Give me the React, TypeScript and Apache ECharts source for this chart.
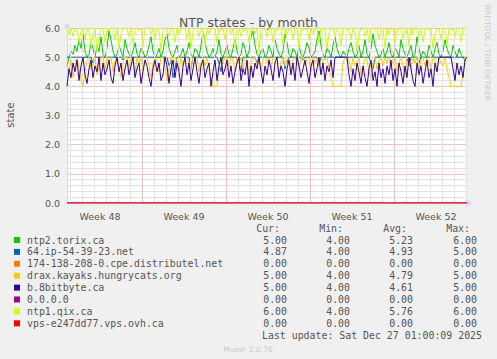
import React, { useEffect, useRef } from "react";
import * as echarts from "echarts";

// ---- data: one value every 4 hours (every 2nd 2-hour slot) ----
const seriesNames = [
  "ntp2.torix.ca",
  "64.ip-54-39-23.net",
  "174-138-208-0.cpe.distributel.net",
  "drax.kayaks.hungrycats.org",
  "b.8bitbyte.ca",
  "0.0.0.0",
  "ntp1.qix.ca",
  "vps-e247dd77.vps.ovh.ca",
];
const seriesColors = ["#00CC00", "#0066B3", "#FF8000", "#FFCC00", "#330099", "#990099", "#CCFF00", "#FF0000"];

const torix = [
  4.7, 5.0, 5.2, 5.1, 5.4, 5.2, 5.6, 5.3, 5.8, 5.2, 5.0, 5.1, 5.5, 5.3, 5.0, 5.4, 5.2, 5.7, 5.1, 5.0,
  5.3, 5.9, 5.6, 5.2, 5.0, 5.1, 5.4, 5.2, 5.0, 5.6, 5.3, 5.1, 5.0, 5.2, 5.5, 5.1, 5.0, 5.3, 5.2, 5.0,
  5.1, 5.4, 5.7, 5.2, 5.0, 5.1, 5.3, 5.0, 5.2, 5.6, 5.8, 5.3, 5.1, 5.0, 5.2, 5.4, 5.0, 5.1, 5.3, 5.0,
  5.2, 5.5, 5.1, 5.0, 5.3, 5.2, 5.0, 5.4, 5.9, 5.5, 5.2, 5.0, 5.1, 5.3, 5.0, 5.2, 5.6, 5.1, 5.0, 5.2,
  5.4, 5.1, 5.0, 5.3, 5.6, 5.2, 5.0, 5.1, 5.5, 5.3, 5.0, 5.2, 5.7, 5.9, 5.4, 5.1, 5.0, 5.2, 5.3, 5.0,
  5.1, 5.4, 5.2, 5.0, 5.6, 5.3, 5.1, 5.0, 5.2, 5.8, 5.5, 5.1, 5.0, 5.3, 5.2, 5.0, 5.4, 5.1, 5.0, 5.2,
  5.5, 5.3, 5.0, 5.1, 5.2, 5.6, 5.9, 5.4, 5.1, 5.0, 5.3, 5.2, 5.0, 5.4, 5.7, 5.3, 5.1, 5.0, 5.2, 5.1,
  5.0, 5.3, 5.5, 5.2, 5.0, 5.1, 5.4, 5.0, 5.2, 5.6, 5.1, 5.0, 5.3, 5.8, 5.4, 5.2, 5.0, 5.1, 5.3, 5.0,
  5.2, 5.5, 5.1, 5.0, 5.3, 5.2, 5.0, 5.6, 5.3, 5.1, 5.0, 5.2, 5.4, 5.0, 5.1, 5.7, 5.3, 5.0, 5.2, 5.1,
  5.0, 5.4, 5.2, 5.0, 5.3, 5.5, 5.1, 5.0, 5.2, 5.6, 5.3, 5.1, 5.0, 5.4, 5.2, 5.0, 5.3, 5.1, 5.0, 5.0,
  5.0,
];
const ip64 = [
  5.0, 5.0, 5.0, 5.0, 5.0, 5.0, 5.0, 5.0, 5.0, 5.0, 5.0, 5.0, 5.0, 4.8, 5.0, 5.0, 5.0, 5.0, 5.0, 5.0,
  5.0, 5.0, 5.0, 5.0, 5.0, 5.0, 5.0, 5.0, 4.9, 5.0, 5.0, 5.0, 5.0, 5.0, 5.0, 5.0, 5.0, 5.0, 5.0, 5.0,
  5.0, 5.0, 5.0, 5.0, 5.0, 5.0, 5.0, 5.0, 5.0, 5.0, 5.0, 4.7, 4.9, 4.3, 4.6, 5.0, 5.0, 5.0, 5.0, 5.0,
  5.0, 5.0, 4.6, 5.0, 5.0, 5.0, 5.0, 5.0, 5.0, 5.0, 5.0, 5.0, 5.0, 5.0, 5.0, 5.0, 4.8, 4.5, 5.0, 5.0,
  5.0, 5.0, 5.0, 5.0, 5.0, 5.0, 4.7, 4.5, 5.0, 5.0, 5.0, 5.0, 5.0, 5.0, 5.0, 4.8, 5.0, 5.0, 5.0, 5.0,
  5.0, 5.0, 5.0, 5.0, 5.0, 5.0, 5.0, 5.0, 5.0, 4.6, 4.8, 5.0, 5.0, 5.0, 5.0, 5.0, 5.0, 5.0, 4.9, 5.0,
  5.0, 5.0, 5.0, 5.0, 5.0, 5.0, 4.7, 5.0, 5.0, 5.0, 5.0, 5.0, 5.0, 5.0, 5.0, 5.0, 5.0, 5.0, 5.0, 5.0,
  5.0, 5.0, 5.0, 5.0, 5.0, 5.0, 5.0, 5.0, 5.0, 5.0, 5.0, 5.0, 4.8, 4.6, 5.0, 5.0, 5.0, 5.0, 5.0, 5.0,
  5.0, 5.0, 5.0, 5.0, 5.0, 5.0, 5.0, 5.0, 5.0, 5.0, 5.0, 4.7, 5.0, 5.0, 5.0, 5.0, 4.8, 5.0, 5.0, 5.0,
  5.0, 5.0, 5.0, 5.0, 5.0, 5.0, 5.0, 5.0, 5.0, 5.0, 5.0, 5.0, 5.0, 5.0, 5.0, 5.0, 5.0, 5.0, 5.0, 4.9,
  4.87,
];
const distributel = [0, 0];
const drax = [
  4.8, 4.5, 4.9, 4.3, 4.7, 5.0, 4.6, 4.2, 4.0, 4.5, 4.9, 5.0, 4.6, 4.8, 5.0, 4.4, 4.7, 5.0, 5.0, 4.6,
  5.0, 4.8, 5.0, 4.5, 4.9, 5.0, 4.7, 4.3, 4.8, 5.0, 5.0, 4.6, 5.0, 4.9, 4.4, 5.0, 4.8, 5.0, 4.6, 4.9,
  5.0, 4.7, 4.3, 4.8, 5.0, 4.9, 4.5, 5.0, 5.0, 4.7, 4.2, 4.6, 5.0, 4.8, 5.0, 4.9, 4.5, 5.0, 4.7, 5.0,
  5.0, 4.8, 4.6, 5.0, 4.9, 5.0, 4.5, 4.8, 5.0, 4.7, 5.0, 4.6, 4.3, 4.0, 4.0, 4.0, 4.6, 5.0, 4.8, 5.0,
  5.0, 4.7, 5.0, 4.9, 4.5, 5.0, 4.8, 5.0, 4.6, 5.0, 4.9, 4.4, 4.8, 5.0, 5.0, 4.7, 5.0, 4.5, 4.9, 5.0,
  4.8, 5.0, 4.6, 5.0, 5.0, 4.9, 4.4, 4.8, 5.0, 4.7, 5.0, 5.0, 4.5, 4.9, 5.0, 4.8, 4.6, 5.0, 5.0, 4.7,
  5.0, 4.9, 4.5, 5.0, 4.8, 5.0, 4.7, 4.4, 5.0, 4.9, 5.0, 4.6, 4.3, 4.0, 4.0, 4.0, 4.0, 4.0, 4.8, 5.0,
  5.0, 4.9, 4.5, 5.0, 4.7, 4.8, 5.0, 4.4, 4.6, 5.0, 4.9, 4.5, 4.3, 4.8, 5.0, 4.6, 4.9, 5.0, 4.7, 5.0,
  4.8, 5.0, 4.6, 4.9, 5.0, 4.5, 4.8, 5.0, 4.7, 4.3, 5.0, 4.9, 4.6, 5.0, 4.8, 5.0, 4.5, 4.9, 5.0, 4.7,
  5.0, 4.8, 4.6, 5.0, 4.9, 4.5, 5.0, 4.8, 4.7, 5.0, 4.6, 4.3, 4.0, 4.0, 4.0, 4.0, 4.0, 4.0, 4.4, 5.0,
  5.0,
];
const bitbyte = [
  4.0, 4.6, 4.3, 4.8, 4.5, 4.9, 4.2, 4.7, 5.0, 4.4, 4.1, 4.6, 4.9, 4.3, 4.7, 4.5, 5.0, 4.2, 4.8, 4.4,
  4.6, 4.9, 4.3, 4.1, 4.7, 5.0, 4.5, 4.8, 4.2, 4.6, 4.9, 4.4, 4.7, 5.0, 4.3, 4.6, 4.8, 4.1, 4.5, 4.9,
  4.7, 4.3, 4.0, 4.6, 4.9, 4.5, 4.8, 4.2, 4.4, 5.0, 4.7, 4.1, 4.6, 4.9, 4.3, 4.8, 4.5, 4.0, 4.7, 5.0,
  4.4, 4.8, 4.2, 4.6, 5.0, 4.5, 4.1, 4.7, 4.9, 4.3, 4.6, 4.8, 4.0, 4.5, 4.9, 4.2, 4.7, 5.0, 4.4, 4.6,
  4.9, 4.3, 4.7, 4.1, 4.5, 4.8, 5.0, 4.2, 4.6, 4.4, 4.9, 4.0, 4.7, 4.3, 4.8, 4.6, 5.0, 4.5, 4.1, 4.7,
  4.4, 4.9, 4.6, 4.2, 4.8, 5.0, 4.3, 4.7, 4.5, 4.0, 4.6, 4.9, 4.4, 4.8, 4.2, 5.0, 4.7, 4.3, 4.6, 4.9,
  4.5, 4.1, 4.7, 4.9, 4.3, 4.6, 5.0, 4.4, 4.8, 4.2, 4.7, 4.5, 4.9, 4.3, 5.0, 5.0, 5.0, 5.0, 5.0, 5.0,
  5.0, 4.4, 4.0, 4.6, 4.2, 4.8, 4.5, 4.1, 4.7, 4.3, 4.0, 4.6, 4.9, 4.2, 4.5, 4.0, 4.8, 4.3, 4.6, 4.1,
  4.7, 4.4, 4.9, 4.2, 4.6, 4.0, 4.8, 4.5, 4.1, 4.7, 4.3, 5.0, 4.6, 4.2, 4.0, 4.8, 4.4, 4.7, 4.1, 4.5,
  4.9, 4.3, 4.6, 4.0, 4.8, 4.5, 5.0, 5.0, 5.0, 5.0, 5.0, 5.0, 5.0, 4.6, 4.2, 4.8, 4.4, 4.7, 4.3, 4.9,
  5.0,
];
const zeroHost = [0, 0];
const qix = [
  6.0, 5.8, 6.0, 5.7, 6.0, 6.0, 5.5, 5.9, 6.0, 5.6, 6.0, 6.0, 5.4, 5.8, 6.0, 5.2, 5.7, 6.0, 6.0, 5.5,
  6.0, 5.9, 6.0, 6.0, 5.6, 6.0, 5.3, 5.8, 6.0, 6.0, 6.0, 5.7, 6.0, 5.5, 6.0, 6.0, 5.9, 6.0, 5.4, 6.0,
  6.0, 6.0, 5.8, 6.0, 5.6, 6.0, 6.0, 5.2, 5.9, 6.0, 6.0, 5.7, 6.0, 6.0, 5.5, 6.0, 5.8, 6.0, 6.0, 6.0,
  5.6, 6.0, 5.3, 5.9, 6.0, 6.0, 5.7, 6.0, 6.0, 5.4, 6.0, 5.8, 6.0, 6.0, 6.0, 5.5, 6.0, 5.9, 6.0, 5.6,
  6.0, 6.0, 5.8, 6.0, 5.3, 6.0, 6.0, 5.7, 6.0, 5.9, 6.0, 5.5, 6.0, 6.0, 5.8, 6.0, 5.2, 5.9, 6.0, 6.0,
  5.7, 6.0, 6.0, 5.5, 6.0, 5.9, 6.0, 6.0, 5.4, 6.0, 5.8, 6.0, 6.0, 5.6, 6.0, 6.0, 5.3, 6.0, 5.9, 6.0,
  6.0, 5.6, 6.0, 5.8, 6.0, 6.0, 5.5, 6.0, 5.9, 6.0, 5.3, 5.8, 6.0, 6.0, 5.7, 6.0, 6.0, 5.4, 6.0, 6.0,
  5.9, 6.0, 5.6, 6.0, 6.0, 5.2, 5.8, 6.0, 6.0, 5.7, 6.0, 5.5, 6.0, 6.0, 5.9, 6.0, 5.6, 6.0, 6.0, 5.3,
  6.0, 5.8, 6.0, 6.0, 5.5, 6.0, 5.9, 6.0, 5.6, 6.0, 6.0, 5.4, 6.0, 5.8, 6.0, 6.0, 5.7, 6.0, 5.5, 6.0,
  6.0, 5.9, 6.0, 5.3, 5.8, 6.0, 6.0, 5.6, 6.0, 6.0, 5.4, 6.0, 5.9, 6.0, 5.7, 6.0, 6.0, 5.5, 6.0, 6.0,
  6.0,
];
const vps = [0, 0];

const seriesValues = [torix, ip64, distributel, drax, bitbyte, zeroHost, qix, vps];

const curValues = ["5.00", "4.87", "0.00", "5.00", "5.00", "0.00", "6.00", "0.00"];
const minValues = ["4.00", "4.00", "0.00", "4.00", "4.00", "0.00", "4.00", "0.00"];
const avgValues = ["5.23", "4.93", "0.00", "4.79", "4.61", "0.00", "5.76", "0.00"];
const maxValues = ["6.00", "5.00", "0.00", "5.00", "5.00", "0.00", "6.00", "0.00"];

const weekLabels = ["Week 48", "Week 49", "Week 50", "Week 51", "Week 52"];
const yTicks = [0, 1, 2, 3, 4, 5, 6];

// time axis: 2-hour slots, first slot 18 h after the start of week 48
const SLOT_COUNT = 401;
const SLOT_HOURS = 2;
const START_HOUR = 18;

const FONT = "DejaVu Sans";
const MONO = "DejaVu Sans Mono";
const TEXT = "#555555";
const MINOR_GRID = "#e2e2e2";
const MAJOR_GRID = "#efc2c2";

export default function App() {
  const ref = useRef<HTMLDivElement>(null);
  useEffect(() => {
    if (!ref.current) return;
    const chart = echarts.init(ref.current, undefined, { renderer: "svg" });
    const hourOf = (i: number) => START_HOUR + i * SLOT_HOURS;
    const categories = Array.from({ length: SLOT_COUNT }, (_, i) => {
      const w = Math.floor(hourOf(i) / 168);
      return weekLabels[Math.min(w, weekLabels.length - 1)];
    });
    const dayIdx: number[] = [];
    const weekIdx: number[] = [];
    for (let i = 0; i < SLOT_COUNT; i++) {
      const h = hourOf(i);
      if (h % 168 === 0) weekIdx.push(i);
      else if (h % 24 === 0) dayIdx.push(i);
    }

    const gridSeries = (idx: number[], color: string, name: string, z: number) => ({
      type: "line",
      name,
      data: [],
      silent: true,
      z,
      markLine: {
        silent: true,
        symbol: ["none", "none"],
        label: { show: false },
        animation: false,
        lineStyle: { color, type: "solid", width: 1 },
        emphasis: { disabled: true },
        data: idx.map((i) => ({ xAxis: i })),
      },
    });

    const series: any[] = [gridSeries(dayIdx, MINOR_GRID, "_days", 1), gridSeries(weekIdx, MAJOR_GRID, "_weeks", 2)];
    seriesValues.forEach((vals, s) => {
      const step = vals.length > 2 ? 2 : SLOT_COUNT - 1;
      series.push({
        type: "line",
        name: seriesNames[s],
        data: vals.map((v, k) => [k * step, v]),
        showSymbol: false,
        symbol: "none",
        lineStyle: { width: 1, color: seriesColors[s] },
        itemStyle: { color: seriesColors[s] },
        z: 3 + s,
      });
    });

    const rowY0 = 240;
    const rowStep = 11.9;
    const legendFont = 9.9;
    const graphics: any[] = [];
    const txt = (x: number, y: number, s: string, align = "left", font = MONO, size = legendFont, color = TEXT) => ({
      type: "text",
      x,
      y,
      style: { text: s, fill: color, font: `${size}px "${font}"`, textAlign: align, textVerticalAlign: "middle" },
    });
    graphics.push(txt(280, rowY0 - rowStep, "Cur:", "right"));
    graphics.push(txt(343, rowY0 - rowStep, "Min:", "right"));
    graphics.push(txt(407, rowY0 - rowStep, "Avg:", "right"));
    graphics.push(txt(470, rowY0 - rowStep, "Max:", "right"));
    seriesNames.forEach((n, i) => {
      const y = rowY0 + i * rowStep;
      graphics.push({ type: "rect", shape: { x: 14, y: y - 3, width: 6, height: 6 }, style: { fill: seriesColors[i] } });
      graphics.push(txt(27, y, n));
      graphics.push(txt(287, y, curValues[i], "right"));
      graphics.push(txt(350, y, minValues[i], "right"));
      graphics.push(txt(413, y, avgValues[i], "right"));
      graphics.push(txt(477, y, maxValues[i], "right"));
    });
    graphics.push(txt(262, rowY0 + 8 * rowStep, "Last update: Sat Dec 27 01:00:09 2025"));
    graphics.push(txt(248, 349, "Munin 2.0.76", "center", FONT, 7.5, "#c8c8c8"));
    graphics.push({
      type: "text",
      x: 487,
      y: 53,
      rotation: -Math.PI / 2,
      style: { text: "RRDTOOL / TOBI OETIKER", fill: "#c8c8c8", font: `7.5px "${FONT}"`, textAlign: "center", textVerticalAlign: "middle" },
    });
    graphics.push({
      type: "text",
      x: 10,
      y: 115,
      rotation: Math.PI / 2,
      style: { text: "state", fill: TEXT, font: `10px "${FONT}"`, textAlign: "center", textVerticalAlign: "middle" },
    });

    const option: any = {
      animation: false,
      backgroundColor: "#F0F0F0",
      textStyle: { fontFamily: FONT },
      title: {
        text: "NTP states - by month",
        left: "center",
        top: 11,
        textStyle: { fontFamily: FONT, fontSize: 12.5, fontWeight: "normal", color: TEXT },
      },
      grid: { left: 67, right: 30, top: 28, bottom: 156, show: true, backgroundColor: "#FFFFFF", borderWidth: 0 },
      xAxis: {
        type: "category",
        data: categories,
        boundaryGap: false,
        axisLine: {
          show: true,
          onZero: false,
          lineStyle: { color: "#CFD6F8", width: 1 },
          symbol: ["none", "arrow"],
          symbolSize: [6, 6],
          symbolOffset: [0, 5],
        },
        axisTick: { show: false },
        axisLabel: {
          interval: (i: number) => hourOf(i) % 168 === 84,
          color: TEXT,
          fontSize: 9.5,
          fontFamily: FONT,
          margin: 8,
        },
        splitLine: { show: false },
      },
      yAxis: {
        type: "value",
        min: yTicks[0],
        max: yTicks[yTicks.length - 1],
        interval: 1,
        axisLine: {
          show: true,
          lineStyle: { color: "#CFD6F8", width: 1 },
          symbol: ["none", "arrow"],
          symbolSize: [6, 6],
          symbolOffset: [0, 5],
        },
        axisTick: { show: false },
        axisLabel: { formatter: (v: number) => v.toFixed(1), color: TEXT, fontSize: 9.5, fontFamily: FONT, margin: 7 },
        splitLine: { show: true, lineStyle: { color: MAJOR_GRID, type: "solid", width: 1 } },
        minorTick: { show: false, splitNumber: 5 },
        minorSplitLine: { show: true, lineStyle: { color: MINOR_GRID, type: "solid", width: 1 } },
      },
      series,
      graphic: graphics,
    };
    chart.setOption(option);
    return () => chart.dispose();
  }, []);
  return <div ref={ref} style={{ position: "absolute", left: 0, top: 0, width: 497, height: 359 }} />;
}
